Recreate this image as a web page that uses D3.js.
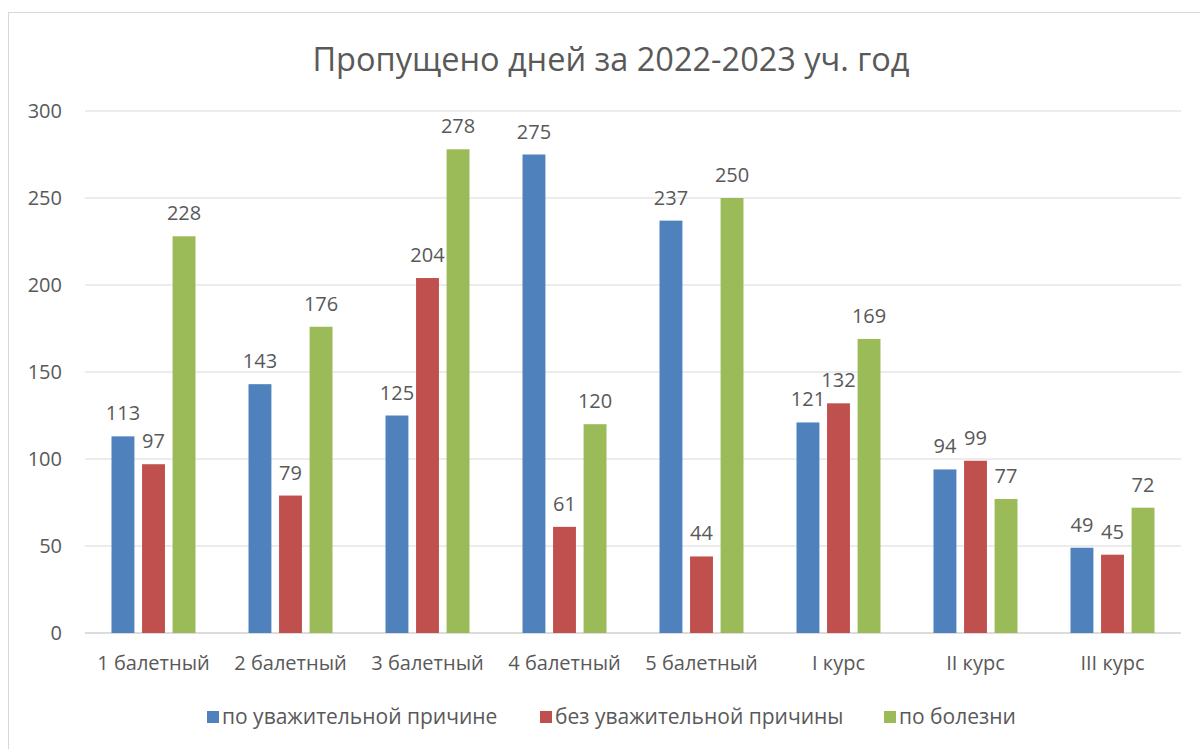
<!DOCTYPE html>
<html>
<head>
<meta charset="utf-8">
<script src="https://cdn.jsdelivr.net/npm/d3@7"></script>
<style>
body { margin: 0; background: #fff; }
text { font-family: "Open Sans", "Noto Sans", sans-serif; fill: #595959; }
</style>
</head>
<body>
<svg id="chart" width="1200" height="749"></svg>
<script>
var categories = ["1 балетный", "2 балетный", "3 балетный", "4 балетный", "5 балетный", "I курс", "II курс", "III курс"];
var seriesNames = ["по уважительной причине", "без уважительной причины", "по болезни"];
var excused = [113, 143, 125, 275, 237, 121, 94, 49];
var unexcused = [97, 79, 204, 61, 44, 132, 99, 45];
var illness = [228, 176, 278, 120, 250, 169, 77, 72];
var yTicks = [0, 50, 100, 150, 200, 250, 300];
var colors = ["#4f81bd", "#c0504d", "#9bbb59"];

var seriesValues = [excused, unexcused, illness];

var svg = d3.select("#chart");

// chart border
svg.append("rect")
  .attr("x", 8.5).attr("y", 12.5)
  .attr("width", 1200).attr("height", 760)
  .attr("fill", "none")
  .attr("stroke", "#d9d9d9")
  .attr("stroke-width", 1);

var plotLeft = 85, plotRight = 1181, plotTop = 111, plotBottom = 633;

var x = d3.scaleBand().domain(categories).range([plotLeft, plotRight]);
var xs = d3.scaleBand().domain(d3.range(3)).range([0, 84]).paddingInner(0.25);
var y = d3.scaleLinear().domain([0, 300]).range([plotBottom, plotTop]);

// title
svg.append("text")
  .attr("x", 611).attr("y", 71)
  .attr("text-anchor", "middle")
  .style("font-size", "32.5px")
  .text("Пропущено дней за 2022-2023 уч. год");

// gridlines
svg.append("g")
  .selectAll("line")
  .data(yTicks)
  .enter()
  .append("line")
  .attr("x1", plotLeft).attr("x2", plotRight)
  .attr("y1", function(d) { return y(d); })
  .attr("y2", function(d) { return y(d); })
  .attr("stroke", function(d) { return d === 0 ? "#d0d0d0" : "#d9d9d9"; })
  .attr("stroke-width", function(d) { return d === 0 ? 1.5 : 1; });

// y tick labels
svg.append("g")
  .selectAll("text")
  .data(yTicks)
  .enter()
  .append("text")
  .attr("x", 62)
  .attr("y", function(d) { return y(d); })
  .attr("dy", "0.35em")
  .attr("text-anchor", "end")
  .style("font-size", "20px")
  .text(function(d) { return d; });

// bars + labels
var groups = svg.append("g")
  .selectAll("g")
  .data(categories)
  .enter()
  .append("g")
  .attr("transform", function(d) { return "translate(" + (x(d) + x.bandwidth() / 2 - 42) + ",0)"; });

function cells(d, i) {
  return seriesValues.map(function(s, k) { return { k: k, v: s[i] }; });
}

groups.selectAll("rect")
  .data(cells)
  .enter()
  .append("rect")
  .attr("x", function(d) { return xs(d.k); })
  .attr("width", xs.bandwidth())
  .attr("y", function(d) { return y(d.v); })
  .attr("height", function(d) { return plotBottom - y(d.v); })
  .attr("fill", function(d) { return colors[d.k]; });

groups.selectAll("text")
  .data(cells)
  .enter()
  .append("text")
  .attr("x", function(d) { return xs(d.k) + xs.bandwidth() / 2; })
  .attr("y", function(d) { return y(d.v) - 16; })
  .attr("text-anchor", "middle")
  .style("font-size", "20px")
  .text(function(d) { return d.v; });

// category labels
svg.append("g")
  .selectAll("text")
  .data(categories)
  .enter()
  .append("text")
  .attr("x", function(d) { return x(d) + x.bandwidth() / 2; })
  .attr("y", 670)
  .attr("text-anchor", "middle")
  .style("font-size", "20px")
  .text(function(d) { return d; });

// legend
var legendX = [207, 540, 884];
var legend = svg.append("g")
  .selectAll("g")
  .data(seriesNames)
  .enter()
  .append("g")
  .attr("transform", function(d, i) { return "translate(" + legendX[i] + ",711)"; });

legend.append("rect")
  .attr("width", 12).attr("height", 12)
  .attr("fill", function(d, i) { return colors[i]; });

legend.append("text")
  .attr("x", 15).attr("y", 6)
  .attr("dy", "0.35em")
  .style("font-size", "21px")
  .text(function(d) { return d; });
</script>
</body>
</html>
